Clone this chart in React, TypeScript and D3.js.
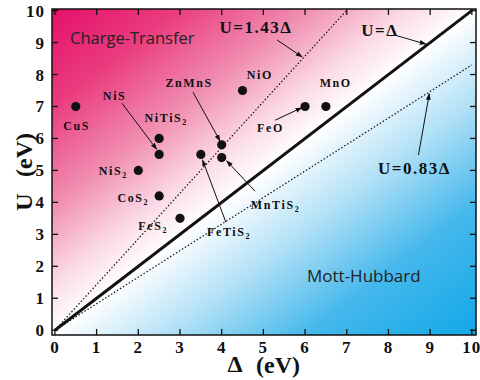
import React from "react";
import * as d3 from "d3";

// Compounds: charge-transfer energy Δ vs. Coulomb U (eV)
const names = ["CuS", "NiS", "NiTiS", "NiS", "CoS", "FeS", "FeTiS", "ZnMnS", "MnTiS", "NiO", "FeO", "MnO"];
const subs = ["", "", "2", "2", "2", "2", "2", "", "2", "", "", ""];
const deltaVals = [0.5, 2.5, 2.5, 2.0, 2.5, 3.0, 3.5, 4.0, 4.0, 4.5, 6.0, 6.5];
const uVals = [7.0, 5.5, 6.0, 5.0, 4.2, 3.5, 5.5, 5.8, 5.4, 7.5, 7.0, 7.0];
// label anchor (data coords, start of text baseline)
const labelDelta = [0.2, 1.15, 2.15, 1.05, 1.5, 2.0, 3.65, 2.65, 4.7, 4.6, 4.85, 6.35];
const labelU = [6.25, 7.2, 6.5, 4.85, 4.0, 3.15, 2.95, 7.6, 3.8, 7.85, 6.2, 7.6];

// Annotation arrows: [fromΔ, fromU, toΔ, toU]
const arrows: [number, number, number, number][] = [
  [1.61, 7.1, 2.44, 5.66],
  [3.31, 7.45, 3.96, 5.92],
  [4.1, 3.38, 3.54, 5.33],
  [4.8, 4.35, 4.12, 5.3],
  [5.28, 6.57, 5.92, 6.96],
  [5.33, 9.08, 5.93, 8.55],
  [8.16, 9.23, 8.9, 8.95],
  [8.72, 5.48, 8.98, 7.4],
];

// Reference lines U = k·Δ
const slopes = [1.43, 1.0, 0.83];
const slopeLabels = ["U=1.43Δ", "U=Δ", "U=0.83Δ"];
const slopeLabelDelta = [3.95, 7.35, 7.75];
const slopeLabelU = [9.3, 9.2, 4.9];

const ticks = [0, 1, 2, 3, 4, 5, 6, 7, 8, 9, 10];

export default function App() {
  const W = 480, H = 380;
  const x = d3.scaleLinear().domain([-0.07, 10.1]).range([52, 476]);
  const y = d3.scaleLinear().domain([-0.15, 10.05]).range([335, 9]);
  const [x0, x1] = x.range();
  const [yb, yt] = y.range();
  const line = d3.line<[number, number]>().x((d) => x(d[0])).y((d) => y(d[1]));

  const serif = "'Liberation Serif', 'Times New Roman', serif";
  const sans = "'Open Sans', 'Noto Sans', sans-serif";

  return (
    <svg width={W} height={H} style={{ position: "absolute", left: 0, top: 0, display: "block" }}>
      <defs>
        <linearGradient id="bg" x1="0" y1="0" x2="1" y2="1">
          <stop offset="0%" stopColor="#e5106a" />
          <stop offset="15%" stopColor="#ea3c7e" />
          <stop offset="30%" stopColor="#f08cb0" />
          <stop offset="42%" stopColor="#fbd9e6" />
          <stop offset="50%" stopColor="#ffffff" />
          <stop offset="64%" stopColor="#b0e0f6" />
          <stop offset="80%" stopColor="#45b8ec" />
          <stop offset="100%" stopColor="#12a8e8" />
        </linearGradient>
        <marker id="ah" viewBox="0 0 10 10" refX="9" refY="5" markerWidth="7" markerHeight="7" orient="auto" markerUnits="userSpaceOnUse">
          <path d="M0,1.5 L10,5 L0,8.5 Z" fill="#111" />
        </marker>
      </defs>
      <rect x={x0} y={yt} width={x1 - x0} height={yb - yt} fill="url(#bg)" />

      {/* reference lines */}
      {slopes.map((k, i) => {
        const end = Math.min(10, 10 / k);
        return (
          <path
            key={"l" + i}
            d={line([[0, 0], [end, k * end]]) || ""}
            fill="none"
            stroke="#111"
            strokeWidth={k === 1 ? 3 : 1.2}
            strokeDasharray={k === 1 ? undefined : "1.5,2"}
          />
        );
      })}

      {/* frame and ticks */}
      <rect x={x0} y={yt} width={x1 - x0} height={yb - yt} fill="none" stroke="#111" strokeWidth={1.5} />
      {ticks.map((t) => (
        <g key={"t" + t} stroke="#111" strokeWidth={1.3}>
          <line x1={x(t)} x2={x(t)} y1={yb} y2={yb - 6} />
          <line x1={x(t)} x2={x(t)} y1={yt} y2={yt + 6} />
          <line x1={x0} x2={x0 + 6} y1={y(t)} y2={y(t)} />
          <line x1={x1} x2={x1 - 6} y1={y(t)} y2={y(t)} />
        </g>
      ))}
      {ticks.map((t) => (
        <text key={"xl" + t} x={x(t)} y={353} textAnchor="middle" fontFamily={serif} fontWeight="bold" fontSize={17} letterSpacing={1} fill="#111">
          {t}
        </text>
      ))}
      {ticks.map((t) => (
        <text key={"yl" + t} x={45} y={y(t) + 6} textAnchor="end" fontFamily={serif} fontWeight="bold" fontSize={17} letterSpacing={1} fill="#111">
          {t}
        </text>
      ))}

      {/* axis titles */}
      <text x={235} y={372} textAnchor="middle" fontFamily={serif} fontWeight="bold" fontSize={24} fill="#111">Δ</text>
      <text x={278} y={373} textAnchor="middle" fontFamily={serif} fontWeight="bold" fontSize={24} fill="#111">(eV)</text>
      <text transform="translate(32,202) rotate(-90)" textAnchor="middle" fontFamily={serif} fontWeight="bold" fontSize={24} fill="#111">U</text>
      <text transform="translate(32,155) rotate(-90)" textAnchor="middle" fontFamily={serif} fontWeight="bold" fontSize={24} fill="#111">(eV)</text>

      {/* region names */}
      <text x={70} y={44} fontFamily={sans} fontSize={16.5} fill="#222">Charge-Transfer</text>
      <text x={307} y={282} fontFamily={sans} fontSize={17} fill="#222">Mott-Hubbard</text>

      {/* line labels */}
      {slopeLabels.map((s, i) => (
        <text key={"sl" + i} x={x(slopeLabelDelta[i])} y={y(slopeLabelU[i])} fontFamily={serif} fontWeight="bold" fontSize={17} letterSpacing={1.5} fill="#111">
          {s}
        </text>
      ))}

      {/* arrows */}
      {arrows.map((a, i) => (
        <line key={"a" + i} x1={x(a[0])} y1={y(a[1])} x2={x(a[2])} y2={y(a[3])} stroke="#111" strokeWidth={1} markerEnd="url(#ah)" />
      ))}

      {/* points */}
      {deltaVals.map((d, i) => (
        <circle key={"p" + i} cx={x(d)} cy={y(uVals[i])} r={4.6} fill="#111" />
      ))}

      {/* compound labels */}
      {names.map((n, i) => (
        <text key={"n" + i} x={x(labelDelta[i])} y={y(labelU[i])} fontFamily={serif} fontWeight="bold" fontSize={12} letterSpacing={1.6} fill="#111">
          {n}
          {subs[i] && (
            <tspan fontSize={8} dy={3}>
              {subs[i]}
            </tspan>
          )}
        </text>
      ))}
    </svg>
  );
}
